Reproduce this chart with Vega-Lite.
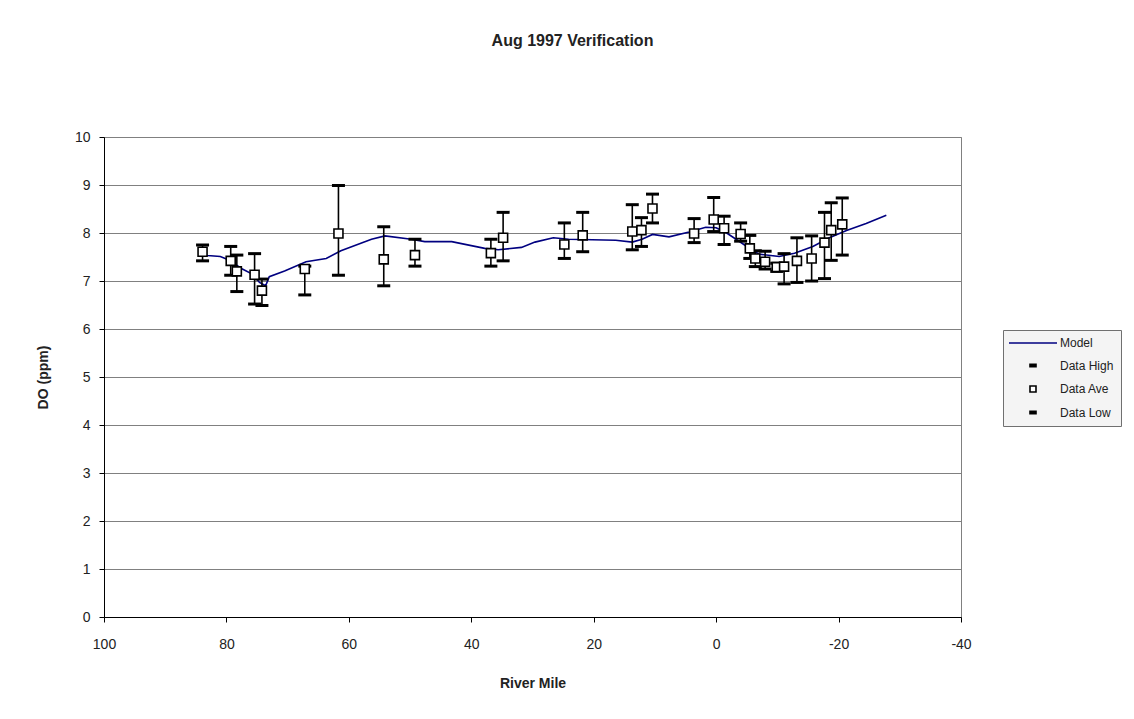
{
  "$schema": "https://vega.github.io/schema/vega-lite/v6.json",
  "autosize": {"type": "none"},
  "width": 857,
  "height": 480,
  "padding": {"left": 104, "top": 137, "right": 173, "bottom": 102},
  "background": "white",
  "title": {
    "text": "Aug 1997 Verification",
    "font": "Liberation Sans",
    "fontSize": 16,
    "fontWeight": "bold",
    "color": "#222222",
    "anchor": "middle",
    "offset": 81,
    "dx": 40
  },
  "datasets": {
    "obs": [
      {"mile": 83.9, "Data Ave": 7.61, "Data High": 7.75, "Data Low": 7.42},
      {"mile": 79.3, "Data Ave": 7.42, "Data High": 7.72, "Data Low": 7.12},
      {"mile": 78.3, "Data Ave": 7.20, "Data High": 7.54, "Data Low": 6.78},
      {"mile": 75.4, "Data Ave": 7.13, "Data High": 7.57, "Data Low": 6.52},
      {"mile": 74.2, "Data Ave": 6.80, "Data High": 7.04, "Data Low": 6.49},
      {"mile": 67.2, "Data Ave": 7.25, "Data High": 7.31, "Data Low": 6.71},
      {"mile": 61.7, "Data Ave": 7.99, "Data High": 8.99, "Data Low": 7.12},
      {"mile": 54.3, "Data Ave": 7.45, "Data High": 8.13, "Data Low": 6.90},
      {"mile": 49.2, "Data Ave": 7.54, "Data High": 7.87, "Data Low": 7.31},
      {"mile": 36.8, "Data Ave": 7.58, "Data High": 7.87, "Data Low": 7.31},
      {"mile": 34.8, "Data Ave": 7.90, "Data High": 8.43, "Data Low": 7.42},
      {"mile": 24.8, "Data Ave": 7.76, "Data High": 8.21, "Data Low": 7.47},
      {"mile": 21.8, "Data Ave": 7.95, "Data High": 8.43, "Data Low": 7.61},
      {"mile": 13.7, "Data Ave": 8.03, "Data High": 8.59, "Data Low": 7.65},
      {"mile": 12.2, "Data Ave": 8.06, "Data High": 8.32, "Data Low": 7.72},
      {"mile": 10.4, "Data Ave": 8.51, "Data High": 8.81, "Data Low": 8.21},
      {"mile": 3.6, "Data Ave": 7.99, "Data High": 8.30, "Data Low": 7.80},
      {"mile": 0.4, "Data Ave": 8.28, "Data High": 8.74, "Data Low": 8.03},
      {"mile": -1.3, "Data Ave": 8.10, "Data High": 8.35, "Data Low": 7.76},
      {"mile": -4.0, "Data Ave": 7.98, "Data High": 8.21, "Data Low": 7.83},
      {"mile": -5.5, "Data Ave": 7.68, "Data High": 7.95, "Data Low": 7.47},
      {"mile": -6.4, "Data Ave": 7.47, "Data High": 7.63, "Data Low": 7.30},
      {"mile": -8.0, "Data Ave": 7.40, "Data High": 7.62, "Data Low": 7.25},
      {"mile": -9.9, "Data Ave": 7.29, "Data High": 7.37, "Data Low": 7.20},
      {"mile": -11.1, "Data Ave": 7.30, "Data High": 7.57, "Data Low": 6.94},
      {"mile": -13.2, "Data Ave": 7.42, "Data High": 7.90, "Data Low": 6.97},
      {"mile": -15.6, "Data Ave": 7.47, "Data High": 7.94, "Data Low": 7.00},
      {"mile": -17.7, "Data Ave": 7.80, "Data High": 8.43, "Data Low": 7.05},
      {"mile": -18.8, "Data Ave": 8.06, "Data High": 8.63, "Data Low": 7.43},
      {"mile": -20.6, "Data Ave": 8.18, "Data High": 8.73, "Data Low": 7.54}
    ],
    "model": [
      {"mile": 83.9, "DO": 7.54},
      {"mile": 83.1, "DO": 7.53},
      {"mile": 81.0, "DO": 7.51},
      {"mile": 79.8, "DO": 7.45},
      {"mile": 77.4, "DO": 7.25},
      {"mile": 75.7, "DO": 7.14},
      {"mile": 74.6, "DO": 6.97},
      {"mile": 73.6, "DO": 6.90},
      {"mile": 73.0, "DO": 7.09},
      {"mile": 70.5, "DO": 7.21},
      {"mile": 67.0, "DO": 7.40},
      {"mile": 63.7, "DO": 7.47},
      {"mile": 61.3, "DO": 7.63},
      {"mile": 56.3, "DO": 7.87},
      {"mile": 54.1, "DO": 7.94},
      {"mile": 49.8, "DO": 7.87},
      {"mile": 47.6, "DO": 7.82},
      {"mile": 43.2, "DO": 7.82},
      {"mile": 37.8, "DO": 7.68},
      {"mile": 35.6, "DO": 7.65},
      {"mile": 31.8, "DO": 7.70},
      {"mile": 29.6, "DO": 7.81},
      {"mile": 26.6, "DO": 7.90},
      {"mile": 24.1, "DO": 7.87},
      {"mile": 16.4, "DO": 7.85},
      {"mile": 13.7, "DO": 7.81},
      {"mile": 12.1, "DO": 7.87},
      {"mile": 10.4, "DO": 7.97},
      {"mile": 7.7, "DO": 7.92},
      {"mile": 4.4, "DO": 8.02},
      {"mile": 1.7, "DO": 8.12},
      {"mile": 0.0, "DO": 8.11},
      {"mile": -1.6, "DO": 8.01},
      {"mile": -4.9, "DO": 7.73},
      {"mile": -7.0, "DO": 7.56},
      {"mile": -10.3, "DO": 7.51},
      {"mile": -12.8, "DO": 7.58},
      {"mile": -15.8, "DO": 7.72},
      {"mile": -18.5, "DO": 7.90},
      {"mile": -21.3, "DO": 8.05},
      {"mile": -24.5, "DO": 8.20},
      {"mile": -27.8, "DO": 8.37}
    ]
  },
  "encoding": {
    "x": {
      "field": "mile",
      "type": "quantitative",
      "scale": {"domain": [-40, 100], "reverse": true, "nice": false, "zero": false},
      "axis": {
        "values": [100, 80, 60, 40, 20, 0, -20, -40],
        "labelExpr": "'' + datum.value",
        "labelFlush": false,
        "title": "River Mile",
        "grid": false,
        "labelPadding": 15,
        "titlePadding": 25
      }
    }
  },
  "layer": [
    {
      "data": {"name": "model"},
      "mark": {"type": "line", "color": "#000080", "strokeWidth": 1.6},
      "encoding": {
        "y": {
          "field": "DO",
          "type": "quantitative",
          "scale": {"domain": [0, 10], "nice": false},
          "axis": {
            "values": [0, 1, 2, 3, 4, 5, 6, 7, 8, 9, 10],
            "title": "DO (ppm)",
            "grid": true,
            "labelPadding": 9,
            "titlePadding": 24
          }
        }
      }
    },
    {
      "data": {"name": "obs"},
      "mark": {"type": "rule", "color": "black", "strokeWidth": 1.6, "opacity": 1},
      "encoding": {
        "y": {"field": "Data Low", "type": "quantitative"},
        "y2": {"field": "Data High"}
      }
    },
    {
      "data": {"name": "obs"},
      "mark": {"type": "tick", "orient": "horizontal", "color": "black", "size": 13, "thickness": 3, "opacity": 1},
      "encoding": {"y": {"field": "Data High", "type": "quantitative"}}
    },
    {
      "data": {"name": "obs"},
      "mark": {"type": "tick", "orient": "horizontal", "color": "black", "size": 13, "thickness": 3, "opacity": 1},
      "encoding": {"y": {"field": "Data Low", "type": "quantitative"}}
    },
    {
      "data": {"name": "obs"},
      "transform": [{"fold": ["Data Ave"], "as": ["series", "value"]}],
      "mark": {"type": "point", "size": 81, "strokeWidth": 1.6, "opacity": 1},
      "encoding": {
        "y": {"field": "value", "type": "quantitative"},
        "shape": {
          "field": "series",
          "type": "nominal",
          "scale": {
            "domain": ["Model", "Data High", "Data Ave", "Data Low"],
            "range": ["M-8,0H8", "M-1,-0.4H1V0.4H-1Z", "square", "M-1,-0.4H1V0.4H-1Z"]
          },
          "legend": {"orient": "none", "legendX": 899, "legendY": 193, "title": null}
        },
        "fill": {
          "field": "series",
          "type": "nominal",
          "scale": {
            "domain": ["Model", "Data High", "Data Ave", "Data Low"],
            "range": ["transparent", "black", "white", "black"]
          },
          "legend": {"orient": "none", "legendX": 899, "legendY": 193, "title": null}
        },
        "stroke": {
          "field": "series",
          "type": "nominal",
          "scale": {
            "domain": ["Model", "Data High", "Data Ave", "Data Low"],
            "range": ["#000080", "black", "black", "black"]
          },
          "legend": {"orient": "none", "legendX": 899, "legendY": 193, "title": null}
        }
      }
    }
  ],
  "config": {
    "font": "Liberation Sans",
    "view": {"stroke": "#808080", "strokeWidth": 1},
    "axis": {
      "labelFont": "Liberation Sans",
      "labelFontSize": 14,
      "labelColor": "#222222",
      "titleFont": "Liberation Sans",
      "titleFontSize": 14,
      "titleFontWeight": "bold",
      "titleColor": "#222222",
      "domainColor": "black",
      "domainWidth": 1,
      "tickColor": "black",
      "tickSize": 5,
      "gridColor": "#808080",
      "gridWidth": 1,
      "gridOpacity": 1
    },
    "legend": {
      "labelFont": "Liberation Sans",
      "labelFontSize": 12,
      "labelColor": "#222222",
      "symbolSize": 36,
      "symbolStrokeWidth": 1.6,
      "symbolOffset": 17,
      "labelOffset": 21,
      "rowPadding": 10.5,
      "padding": 7,
      "fillColor": "#f4f4f4",
      "strokeColor": "#707070",
      "cornerRadius": 0
    }
  }
}
